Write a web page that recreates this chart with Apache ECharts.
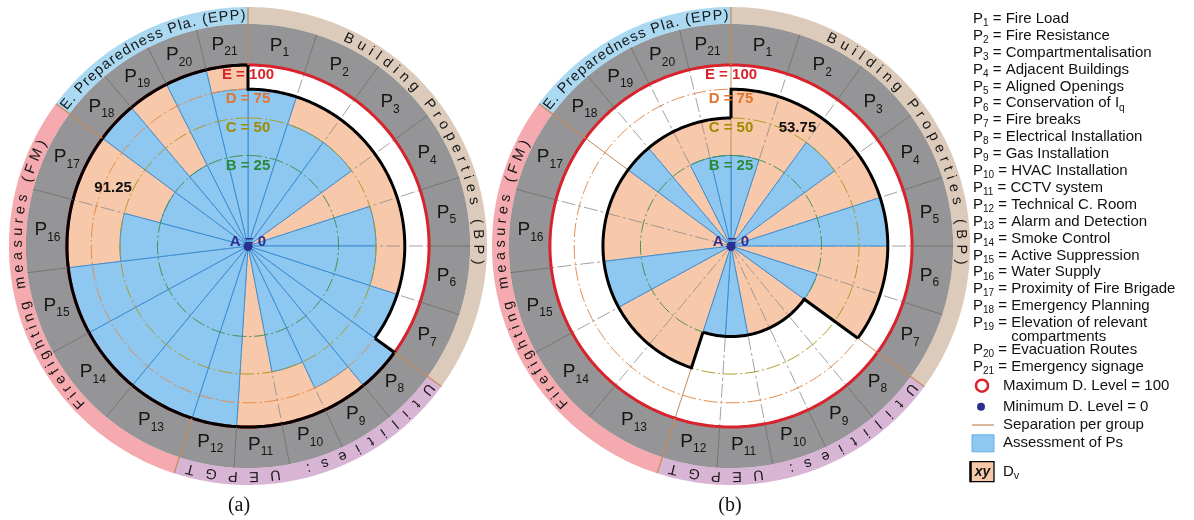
<!DOCTYPE html>
<html>
<head>
<meta charset="utf-8">
<script src="https://cdn.jsdelivr.net/npm/echarts@6.0.0/dist/echarts.min.js"></script>
<style>
html,body{margin:0;padding:0;background:#ffffff;}
#chart{width:1194px;height:520px;}
</style>
</head>
<body>
<div id="chart"></div>
<script>
// ================= DATA =================
const categories = ['P1','P2','P3','P4','P5','P6','P7','P8','P9','P10','P11','P12','P13','P14','P15','P16','P17','P18','P19','P20','P21'];
const paramNames = ['Fire Load','Fire Resistance','Compartmentalisation','Adjacent Buildings','Aligned Openings',
  'Conservation of I_q','Fire breaks','Electrical Installation','Gas Installation','HVAC Installation','CCTV system',
  'Technical C. Room','Alarm and Detection','Smoke Control','Active Suppression','Water Supply','Proximity of Fire Brigade',
  'Emergency Planning','Elevation of relevant\ncompartments','Evacuation Routes','Emergency signage'];
const groupNames = ['Building Properties (BP)','Utilities: UEPGT','Firefighting measures (FM)','E. Preparedness Pla. (EPP)'];
const groupSizes = [7,5,5,4];
// assessment of each parameter (panel a / panel b)
const assessmentA = [75,50,50,0,50,50,75,100,75,50,0,100,100,100,100,50,25,100,25,100,75];
const assessmentB = [25,0,50,0,75,0,25,0,0,0,25,25,0,0,50,0,0,50,0,25,25];
// group defence values Dv
const groupDvA = [75,100,100,100];
const groupDvB = [75,25,50,50];
const overallDv = ['91.25','53.75'];
const levelValues = [0,25,50,75,100];
const levelNames = ['A','B','C','D','E'];
const panelLabels = ['(a)','(b)'];
const legendItems = ['Maximum D. Level = 100','Minimum D. Level = 0','Separation per group','Assessment of Ps','D_v'];

// ================= LAYOUT / STYLE =================
const FONT = "'Liberation Sans', Arial, Helvetica, sans-serif";
const SERIF = "'Liberation Serif', 'Times New Roman', serif";
const CENTERS = [[248,246],[731,246]];
const OUTER_PX = 239;
const R_AXIS_MAX = 13.2;            // radius axis in sqrt(level) units; 10 = level 100
const R_RING = 10, R_GRAY = 12.27, R_BAND = 13.2, R_PLABEL = 11.1, R_BANDTEXT = 12.72;
const GROUP_SPAN = [126, 72, 108.5, 53.5];   // degrees of circle per group
const BAND_TEXT_SPAN = [[26,94],[128.5,194.5],[227,296.5],[308,358.8]];
const TOTAL_POS = [[8.12,293.4],[7.5,29.3]];
const SALMON = '#f8c8aa', BLUE = '#8ec7f0', BLUE_EDGE = '#3d8fd4', RED = '#d8232c', GRAY = '#959597';
const GROUP_SEP = '#c38b5d';
const BAND_COLORS = ['#dccbba','#d9b5d5','#f4aaaf','#abd9f2'];
const LEVEL_TEXT = ['#2e3192','#2a8a3c','#a08a00','#e0762f','#d8232c'];
const RING_COLORS = [null,'#3f8f4a','#ab9a25','#e58a4a',null];

// ================= GEOMETRY FROM GROUP SIZES =================
const pAng = [], gAng = [];
(function(){
  let a = 0;
  groupSizes.forEach((n,g)=>{
    const w = GROUP_SPAN[g]/n;
    gAng.push([a, a+GROUP_SPAN[g]]);
    for (let i=0;i<n;i++) pAng.push([a+i*w, a+(i+1)*w, g, i===0 ? 1 : 0]);
    a += GROUP_SPAN[g];
  });
})();

function arc(api, r, a0, a1){
  const n = Math.max(2, Math.ceil(Math.abs(a1-a0)));
  const pts = [];
  for (let i=0;i<=n;i++) pts.push(api.coord([r, a0+(a1-a0)*i/n]));
  return pts;
}
function ringPts(api, r0, r1, a0, a1){ return arc(api,r1,a0,a1).concat(arc(api,r0,a1,a0)); }

function panelSeries(k, assess, dv){
  const base = {type:'custom', coordinateSystem:'polar', polarIndex:k, silent:true, animation:false};
  const S = [];
  // gray parameter ring
  S.push(Object.assign({}, base, {z:1,
    data: pAng.map(a=>[R_RING, a[0], a[1], R_GRAY]),
    renderItem:(p,api)=>({type:'polygon', shape:{points: ringPts(api, api.value(0), api.value(3), api.value(1), api.value(2))}, style:{fill:GRAY, stroke:GRAY, lineWidth:0.5}})
  }));
  // group colour band
  S.push(Object.assign({}, base, {z:1,
    data: gAng.map((a,g)=>[R_GRAY, a[0], a[1], R_BAND, g]),
    renderItem:(p,api)=>({type:'polygon', shape:{points: ringPts(api, api.value(0), api.value(3), api.value(1), api.value(2))}, style:{fill:BAND_COLORS[api.value(4)]}})
  }));
  // group Dv (salmon)
  S.push(Object.assign({}, base, {z:2,
    data: dv.map((v,g)=>[Math.sqrt(v), gAng[g][0], gAng[g][1]]),
    renderItem:(p,api)=>({type:'polygon', shape:{points: [api.coord([0,api.value(1)])].concat(arc(api, api.value(0), api.value(1), api.value(2)))}, style:{fill:SALMON}})
  }));
  // radial separators inside the disc
  S.push(Object.assign({}, base, {z:3,
    data: pAng.map(a=>[R_RING, a[0], a[3]]),
    renderItem:(p,api)=>{
      const g = api.value(2)===1;
      const p0 = api.coord([0, api.value(1)]), p1 = api.coord([api.value(0), api.value(1)]);
      return {type:'line', shape:{x1:p0[0],y1:p0[1],x2:p1[0],y2:p1[1]},
        style:{stroke: g ? GROUP_SEP : '#8a8a8a', lineWidth: g ? 1 : 0.8, lineDash: g ? null : [14,3,3,3]}};
    }
  }));
  // assessment of Ps (blue)
  S.push(Object.assign({}, base, {z:4,
    data: assess.map((v,i)=>[Math.sqrt(v), pAng[i][0], pAng[i][1], v]),
    renderItem:(p,api)=>{
      if (api.value(3) <= 0) return null;
      return {type:'polygon', shape:{points: [api.coord([0,api.value(1)])].concat(arc(api, api.value(0), api.value(1), api.value(2)))},
        style:{fill:BLUE, stroke:BLUE_EDGE, lineWidth:1}};
    }
  }));
  // dashed level rings B, C, D
  S.push(Object.assign({}, base, {z:5,
    data: [1,2,3].map(i=>[Math.sqrt(levelValues[i]), 0, i]),
    renderItem:(p,api)=>({type:'polyline', shape:{points: arc(api, api.value(0), 0, 360)},
      style:{fill:null, stroke:RING_COLORS[api.value(2)], lineWidth:1, lineDash:[14,3,2,3]}})
  }));
  // maximum level circle (E = 100)
  S.push(Object.assign({}, base, {z:6,
    data: [[Math.sqrt(levelValues[4]), 0]],
    renderItem:(p,api)=>({type:'polyline', shape:{points: arc(api, api.value(0), 0, 360)}, style:{fill:null, stroke:RED, lineWidth:3}})
  }));
  // Dv outline (black)
  S.push(Object.assign({}, base, {z:7,
    data: dv.map((v,g)=>[Math.sqrt(v), gAng[g][0], gAng[g][1], Math.sqrt(dv[(g+dv.length-1)%dv.length])]),
    renderItem:(p,api)=>({type:'polyline', shape:{points: [api.coord([api.value(3), api.value(1)])].concat(arc(api, api.value(0), api.value(1), api.value(2)))},
      style:{fill:null, stroke:'#000', lineWidth:3, lineJoin:'miter'}})
  }));
  // separators in the outer ring
  S.push(Object.assign({}, base, {z:8,
    data: pAng.map(a=>[R_RING, a[0], a[3]]),
    renderItem:(p,api)=>{
      const g = api.value(2)===1;
      const p0 = api.coord([R_RING, api.value(1)]), p1 = api.coord([g ? R_BAND : R_GRAY, api.value(1)]);
      return {type:'line', shape:{x1:p0[0],y1:p0[1],x2:p1[0],y2:p1[1]}, style:{stroke: g ? GROUP_SEP : '#6b6b6b', lineWidth: g ? 1.2 : 0.8}};
    }
  }));
  // parameter labels
  S.push(Object.assign({}, base, {z:9,
    data: pAng.map((a,i)=>[R_PLABEL, (a[0]+a[1])/2, i]),
    renderItem:(p,api)=>{
      const pt = api.coord([api.value(0), api.value(1)]);
      const c = categories[api.value(2)];
      return {type:'text', x:pt[0], y:pt[1], style:{text:'{p|'+c[0]+'}{s|'+c.slice(1)+'}',
        rich:{p:{fontSize:19, fontFamily:FONT, fill:'#151515', verticalAlign:'bottom', padding:[0,0,4,0]},
              s:{fontSize:12, fontFamily:FONT, fill:'#151515', verticalAlign:'bottom'}},
        textAlign:'center', textVerticalAlign:'middle'}};
    }
  }));
  // level labels
  S.push(Object.assign({}, base, {z:9,
    data: levelValues.map((v,i)=>[Math.sqrt(v), 0, i]),
    renderItem:(p,api)=>{
      const pt = api.coord([api.value(0), api.value(1)]);
      const i = api.value(2);
      return {type:'text', x:pt[0], y:pt[1] + (i===0 ? -4 : 10), style:{text: levelNames[i]+' = '+levelValues[i],
        font:'bold 15px '+FONT, fill:LEVEL_TEXT[i], textAlign:'center', textVerticalAlign:'middle'}};
    }
  }));
  // minimum level dot
  S.push(Object.assign({}, base, {z:10,
    data: [[Math.sqrt(levelValues[0]), 0]],
    renderItem:(p,api)=>{ const pt = api.coord([api.value(0), api.value(1)]);
      return {type:'circle', shape:{cx:pt[0], cy:pt[1]+0.5, r:4.5}, style:{fill:'#2b2f8f'}}; }
  }));
  // overall Dv label
  S.push(Object.assign({}, base, {z:10,
    data: [[TOTAL_POS[k][0], TOTAL_POS[k][1]]],
    renderItem:(p,api)=>{ const pt = api.coord([api.value(0), api.value(1)]);
      return {type:'text', x:pt[0], y:pt[1], style:{text: overallDv[k], font:'bold 15px '+FONT, fill:'#111', textAlign:'center', textVerticalAlign:'middle'}}; }
  }));
  return S;
}

const chart = echarts.init(document.getElementById('chart'), null, {renderer:'canvas'});
const hiddenAxis = {axisLine:{show:false}, axisTick:{show:false}, axisLabel:{show:false}, splitLine:{show:false}, splitArea:{show:false}};
chart.setOption({
  animation:false,
  backgroundColor:'#ffffff',
  polar: CENTERS.map(c=>({center:c, radius:OUTER_PX})),
  angleAxis: [0,1].map(k=>Object.assign({polarIndex:k, type:'value', min:0, max:360, startAngle:90, clockwise:true}, hiddenAxis)),
  radiusAxis: [0,1].map(k=>Object.assign({polarIndex:k, type:'value', min:0, max:R_AXIS_MAX}, hiddenAxis)),
  series: panelSeries(0, assessmentA, groupDvA).concat(panelSeries(1, assessmentB, groupDvB))
});

// ================= GRAPHIC: curved group names, legend, panel labels =================
const measureCtx = document.createElement('canvas').getContext('2d');
function textW(t, font){ measureCtx.font = font; return measureCtx.measureText(t).width; }

const graphics = [];
const bandFont = '14.5px ' + FONT;
[0,1].forEach(k=>{
  const c0 = chart.convertToPixel({polarIndex:k}, [0,0]);
  const c1 = chart.convertToPixel({polarIndex:k}, [R_BANDTEXT,0]);
  const rPx = Math.hypot(c1[0]-c0[0], c1[1]-c0[1]);
  groupNames.forEach((name,g)=>{
    const chars = Array.from(name), n = chars.length;
    const w = chars.map(ch=>textW(ch, bandFont));
    const pos = [0];
    for (let i=1;i<n;i++) pos.push(pos[i-1] + (w[i-1]+w[i])/2);
    const [a0,a1] = BAND_TEXT_SPAN[g];
    const L = (a1-a0)*Math.PI/180*rPx;
    const extra = (L - pos[n-1])/(n-1);
    chars.forEach((ch,i)=>{
      if (ch === ' ') return;
      const ang = a0 + (pos[i] + extra*i)/rPx*180/Math.PI;
      const pt = chart.convertToPixel({polarIndex:k}, [R_BANDTEXT, ang]);
      graphics.push({type:'text', x:pt[0], y:pt[1], rotation:-ang*Math.PI/180, silent:true, z:50,
        style:{text:ch, font:bandFont, fill:'#161616', textAlign:'center', textVerticalAlign:'middle'}});
    });
  });
});

// panel labels
[[239,506],[730,506]].forEach((p,k)=>{
  graphics.push({type:'text', x:p[0], y:p[1], silent:true, z:50,
    style:{text:panelLabels[k], font:'20px '+SERIF, fill:'#111', textAlign:'center', textVerticalAlign:'middle'}});
});

// legend
const LX = 973;
const legRich = {
  p:{fontSize:15, fontFamily:FONT, fill:'#111', verticalAlign:'bottom', padding:[0,0,2,0]},
  s:{fontSize:10, fontFamily:FONT, fill:'#111', verticalAlign:'bottom'},
  t:{fontSize:15, fontFamily:FONT, fill:'#111', verticalAlign:'bottom', padding:[0,0,2,0]}
};
const legY = categories.map((c,i)=> i < 19 ? 19.8 + 16.9*i : [351, 368][i-19]);
paramNames.forEach((nm,i)=>{
  const lines = nm.split('\n');
  let main = lines[0], sub = '';
  const m = main.match(/^(.*)_(\w)$/);
  if (m) { main = m[1]; sub = m[2]; }
  const c = categories[i];
  const txt = '{p|'+c[0]+'}{s|'+c.slice(1)+'}{t| = '+main+'}' + (sub ? '{s|'+sub+'}' : '');
  graphics.push({type:'text', x:LX, y:legY[i], silent:true, z:50,
    style:{text:txt, rich:legRich, textAlign:'left', textVerticalAlign:'middle'}});
  if (lines[1]) {
    const x2 = LX + textW(c[0], '15px '+FONT) + textW(c.slice(1), '10px '+FONT) + textW(' = ', '15px '+FONT);
    graphics.push({type:'text', x:x2, y:legY[i]+12.5, silent:true, z:50,
      style:{text:lines[1], font:'15px '+FONT, fill:'#111', textAlign:'left', textVerticalAlign:'middle'}});
  }
});
const symY = [385.7, 406.7, 425, 443.3, 471.7];
graphics.push({type:'circle', shape:{cx:982, cy:symY[0], r:6}, style:{fill:'#fff', stroke:RED, lineWidth:2.5}, z:50, silent:true});
graphics.push({type:'circle', shape:{cx:981, cy:symY[1], r:4}, style:{fill:'#2b2f8f'}, z:50, silent:true});
graphics.push({type:'line', shape:{x1:972, y1:symY[2], x2:994, y2:symY[2]}, style:{stroke:'#d0a07c', lineWidth:1.5}, z:50, silent:true});
graphics.push({type:'rect', shape:{x:972, y:symY[3]-8.5, width:22, height:17}, style:{fill:BLUE, stroke:'#6aaee3', lineWidth:1}, z:50, silent:true});
graphics.push({type:'rect', shape:{x:970.5, y:symY[4]-10, width:23.5, height:20}, style:{fill:SALMON, stroke:'#000', lineWidth:1.3}, z:50, silent:true});
graphics.push({type:'line', shape:{x1:970.5, y1:symY[4]-10.5, x2:970.5, y2:symY[4]+10.5}, style:{stroke:'#000', lineWidth:2.5}, z:51, silent:true});
graphics.push({type:'text', x:982.5, y:symY[4], z:52, silent:true,
  style:{text:'xy', font:'italic bold 14px '+FONT, fill:'#111', textAlign:'center', textVerticalAlign:'middle'}});
legendItems.forEach((t,i)=>{
  let txt;
  const m = t.match(/^(.*)_(\w)$/);
  if (m) txt = '{t|'+m[1]+'}{s|'+m[2]+'}';
  else txt = '{t|'+t+'}';
  graphics.push({type:'text', x:1003, y:symY[i]+1, silent:true, z:50,
    style:{text:txt, rich:{t:{fontSize:15, fontFamily:FONT, fill:'#111', verticalAlign:'bottom', padding:[0,0,2,0]},
                           s:{fontSize:11, fontFamily:FONT, fill:'#111', verticalAlign:'bottom'}},
      textAlign:'left', textVerticalAlign:'middle'}});
});

chart.setOption({graphic: graphics});
</script>
</body>
</html>
